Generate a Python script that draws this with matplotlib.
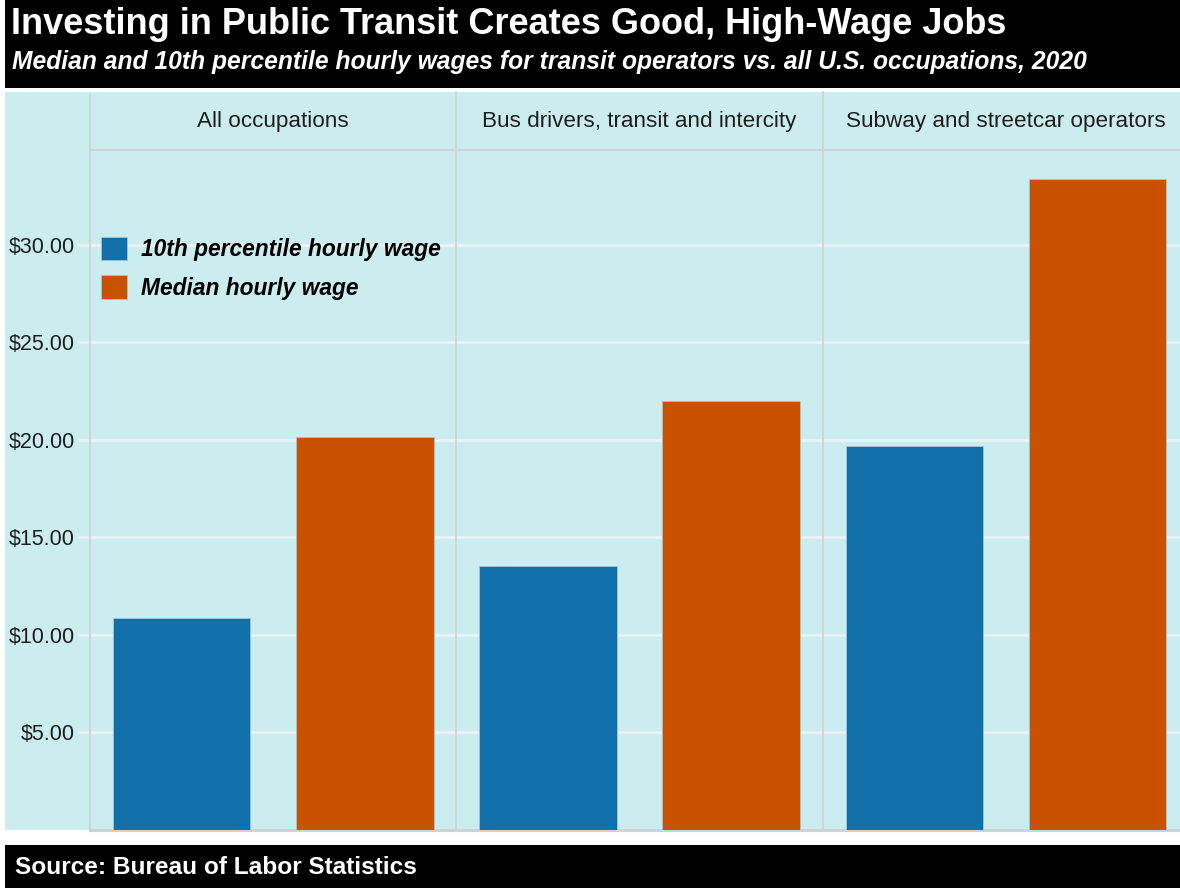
import matplotlib
matplotlib.use("Agg")
import matplotlib.pyplot as plt
from matplotlib.patches import Rectangle, Patch
from matplotlib.ticker import FuncFormatter, FixedLocator

plt.rcParams["font.family"] = ["Liberation Sans", "DejaVu Sans"]

# BLS 2020 hourly wages
occupations = ["All occupations", "Bus drivers, transit and intercity",
               "Subway and streetcar operators"]
series = ["10th percentile hourly wage", "Median hourly wage"]
p10_wage = [10.88, 13.52, 19.68]
median_wage = [20.17, 21.98, 33.37]
y_ticks = [5, 10, 15, 20, 25, 30]

colors = ["#1170AA", "#C85200"]
bg = "#CCEDF0"
line_grey = "#CFD3D5"
grid_col = "#EAF3F4"

W, H = 1180, 888
fig = plt.figure(figsize=(W / 100, H / 100), dpi=100)
fig.patch.set_facecolor("white")


def fx(px):
    return px / W


def fy(py):
    return 1 - py / H


# header, panel background and footer bands
for y0, h, c in [(0, 88, "black"), (92, 738, bg), (845, 43, "black")]:
    fig.patches.append(Rectangle((fx(5), fy(y0 + h)), fx(1175), h / H,
                                 transform=fig.transFigure, facecolor=c,
                                 edgecolor="none", zorder=-5))

fig.text(fx(11), fy(25), "Investing in Public Transit Creates Good, High-Wage Jobs",
         color="white", fontsize=26, fontweight="bold", va="center", ha="left")
fig.text(fx(12), fy(62), "Median and 10th percentile hourly wages for transit operators vs. all U.S. occupations, 2020",
         color="white", fontsize=17.7, fontweight="bold", fontstyle="italic", va="center", ha="left")
fig.text(fx(15), fy(867), "Source: Bureau of Labor Statistics",
         color="white", fontsize=17.6, fontweight="bold", va="center", ha="left")

panel_w = 366.4
left0 = 90
top, bottom = 150, 830
ymax = 34.86

axes = []
for i, occ in enumerate(occupations):
    x0 = left0 + i * panel_w
    ax = fig.add_axes([fx(x0), fy(bottom), panel_w / W, (bottom - top) / H])
    ax.set_facecolor("none")
    ax.bar([0, 1], [p10_wage[i], median_wage[i]], width=0.75, color=colors,
           edgecolor="#9fc7d6", linewidth=0.6, zorder=3)
    ax.set_xlim(-0.5, 1.5)
    ax.set_ylim(0, ymax)
    ax.yaxis.set_major_locator(FixedLocator(y_ticks))
    ax.grid(axis="y", color=grid_col, linewidth=2, zorder=1)
    ax.set_xticks([])
    for s in ["top", "right"]:
        ax.spines[s].set_visible(False)
    ax.spines["bottom"].set_color(line_grey)
    ax.spines["bottom"].set_linewidth(2.2)
    ax.spines["left"].set_color(line_grey)
    ax.spines["left"].set_linewidth(1.3)
    if i == 0:
        ax.yaxis.set_major_formatter(FuncFormatter(lambda v, p: f"${v:.2f}"))
        ax.tick_params(axis="y", length=9, width=2, color=grid_col, labelsize=15.5,
                       labelcolor="#1e1e1e", pad=2)
    else:
        ax.tick_params(axis="y", length=0, labelleft=False)

    # facet strip
    strip_top = 95 if i == 0 else 92
    sax = fig.add_axes([fx(x0), fy(top), panel_w / W, (top - strip_top) / H])
    sax.set_facecolor("none")
    sax.set_xticks([])
    sax.set_yticks([])
    for s in ["top", "right"]:
        sax.spines[s].set_visible(False)
    sax.spines["left"].set_color(line_grey)
    sax.spines["left"].set_linewidth(1.3)
    sax.spines["bottom"].set_color(line_grey)
    sax.spines["bottom"].set_linewidth(1.3)
    fig.text(fx(x0 + panel_w / 2), fy(121), occ, ha="center", va="center",
             fontsize=16.2, color="#1e1e1e")
    axes.append(ax)

handles = [Patch(facecolor=c, edgecolor="#9fc7d6", linewidth=0.6, label=l)
           for c, l in zip(colors, series)]
leg = fig.legend(handles=handles, loc="upper left", bbox_to_anchor=(fx(101), fy(237)),
                 frameon=False, handlelength=1.15, handleheight=1.2, handletextpad=0.6,
                 labelspacing=0.62, borderaxespad=0, borderpad=0,
                 prop={"size": 16.4, "weight": "bold", "style": "italic"})

fig.savefig("out.png", dpi=100)
